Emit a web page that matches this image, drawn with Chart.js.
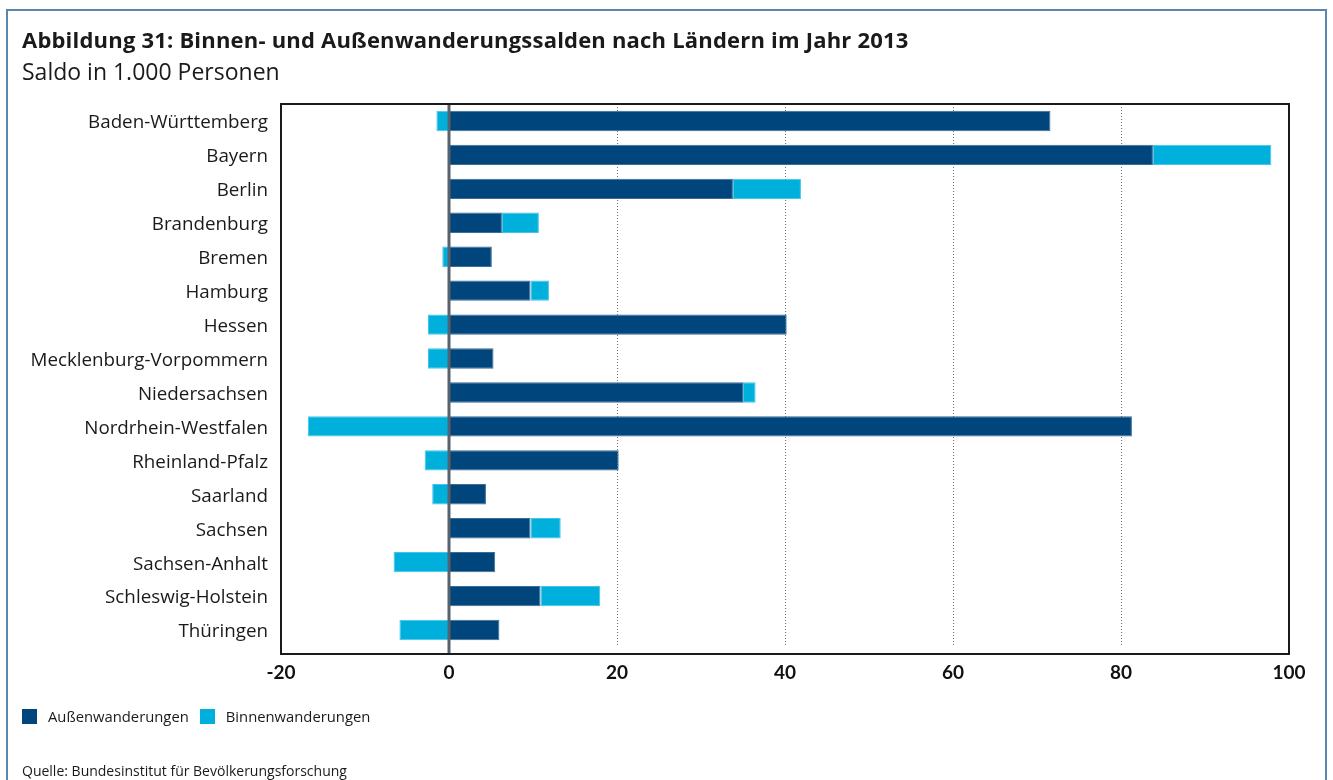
<!DOCTYPE html>
<html lang="de">
<head>
<meta charset="utf-8">
<script src="https://cdn.jsdelivr.net/npm/chart.js@4.4.1/dist/chart.umd.min.js"></script>
<style>
  html, body { margin: 0; padding: 0; background: #fff; }
  body { width: 1333px; height: 780px; position: relative; overflow: hidden; font-family: "Open Sans", Lato, sans-serif; color: #1a1a1a; }
  #frame { position: absolute; left: 6px; top: 9px; width: 1321px; height: 800px; border: 2px solid #5b86ad; border-bottom: none; box-sizing: border-box; }
  #wrap { position: absolute; left: 0; top: 0; width: 1333px; height: 780px; }
  .txt { position: absolute; white-space: nowrap; line-height: 1; }
  #title { left: 22px; top: 28px; font-size: 22px; font-weight: 700; letter-spacing: 0.2px; }
  #subtitle { left: 22px; top: 60px; font-size: 23px; }
  #legend { left: 22px; top: 709px; font-size: 14.8px; display: flex; align-items: center; }
  #legend .sw { width: 15px; height: 15px; display: inline-block; margin-right: 11px; }
  #legend .item { display: flex; align-items: center; margin-right: 11px; }
  #source { left: 22px; top: 764px; font-size: 14px; }
</style>
</head>
<body>
<div id="frame"></div>
<div id="wrap"><canvas id="c" width="1333" height="780"></canvas></div>
<div class="txt" id="title">Abbildung 31: Binnen- und Außenwanderungssalden nach Ländern im Jahr 2013</div>
<div class="txt" id="subtitle">Saldo in 1.000 Personen</div>
<div class="txt" id="legend"></div>
<div class="txt" id="source">Quelle: Bundesinstitut für Bevölkerungsforschung</div>
<script>
const categories = [
  "Baden-Württemberg", "Bayern", "Berlin", "Brandenburg", "Bremen", "Hamburg", "Hessen",
  "Mecklenburg-Vorpommern", "Niedersachsen", "Nordrhein-Westfalen", "Rheinland-Pfalz",
  "Saarland", "Sachsen", "Sachsen-Anhalt", "Schleswig-Holstein", "Thüringen"
];
const aussenwanderungen = [71.6, 83.8, 33.8, 6.3, 5.1, 9.7, 40.2, 5.3, 35.0, 81.3, 20.2, 4.4, 9.7, 5.5, 10.9, 6.0];
const binnenwanderungen = [-1.5, 14.1, 8.1, 4.4, -0.8, 2.2, -2.5, -2.5, 1.5, -16.8, -2.9, -2.0, 3.6, -6.6, 7.1, -5.9];
const seriesNames = ["Außenwanderungen", "Binnenwanderungen"];
const seriesColors = ["#00457b", "#00b0dc"];
const seriesBorders = ["#3a6d97", "#45c4e6"];
const xTicks = [-20, 0, 20, 40, 60, 80, 100];
const gridValues = [20, 40, 60, 80];

// HTML legend
const legendEl = document.getElementById('legend');
seriesNames.forEach((n, i) => {
  const it = document.createElement('span');
  it.className = 'item';
  it.innerHTML = '<span class="sw" style="background:' + seriesColors[i] + '"></span>' + n;
  legendEl.appendChild(it);
});

const framePlugin = {
  id: 'framePlugin',
  beforeDatasetsDraw(chart) {
    const { ctx, chartArea: a, scales: { x } } = chart;
    ctx.save();
    ctx.setLineDash([1, 2]);
    ctx.strokeStyle = '#6f6f6f';
    ctx.lineWidth = 1;
    gridValues.forEach(v => {
      const px = Math.round(x.getPixelForValue(v)) + 0.5;
      ctx.beginPath();
      ctx.moveTo(px, a.top);
      ctx.lineTo(px, a.bottom);
      ctx.stroke();
    });
    ctx.restore();
  },
  afterDatasetsDraw(chart) {
    const { ctx, chartArea: a, scales: { x } } = chart;
    const bottom = a.bottom + 7;
    ctx.save();
    const zx = x.getPixelForValue(0);
    ctx.strokeStyle = '#56636e';
    ctx.lineWidth = 3;
    ctx.beginPath();
    ctx.moveTo(zx, a.top);
    ctx.lineTo(zx, bottom);
    ctx.stroke();
    ctx.strokeStyle = '#1a1a1a';
    ctx.lineWidth = 2;
    ctx.strokeRect(a.left, a.top, a.right - a.left, bottom - a.top);
    ctx.restore();
  }
};

new Chart(document.getElementById('c'), {
  type: 'bar',
  data: {
    labels: categories,
    datasets: [
      { label: seriesNames[0], data: aussenwanderungen, backgroundColor: seriesColors[0], borderColor: seriesBorders[0], borderWidth: 1, borderSkipped: false },
      { label: seriesNames[1], data: binnenwanderungen, backgroundColor: seriesColors[1], borderColor: seriesBorders[1], borderWidth: 1, borderSkipped: false }
    ]
  },
  options: {
    indexAxis: 'y',
    responsive: false,
    animation: false,
    devicePixelRatio: 1,
    layout: { padding: { top: 104, right: 44, bottom: 93, left: 0 } },
    datasets: { bar: { categoryPercentage: 1, barPercentage: 0.6 } },
    plugins: { legend: { display: false }, tooltip: { enabled: false }, title: { display: false } },
    scales: {
      x: {
        stacked: true,
        min: -20, max: 100,
        afterBuildTicks(scale) { scale.ticks = xTicks.map(v => ({ value: v })); },
        afterFit(scale) { scale.height = 40; },
        grid: { display: false, drawTicks: false },
        border: { display: false },
        ticks: { padding: 14, color: '#111', font: { family: 'Lato', size: 19, weight: 'bold' } }
      },
      y: {
        stacked: true,
        afterFit(scale) { scale.width = 281; },
        grid: { display: false, drawTicks: false },
        border: { display: false },
        ticks: { padding: 13, labelOffset: 2, color: '#1a1a1a', font: { family: 'Open Sans', size: 18.8 } }
      }
    }
  },
  plugins: [framePlugin]
});
</script>
</body>
</html>
